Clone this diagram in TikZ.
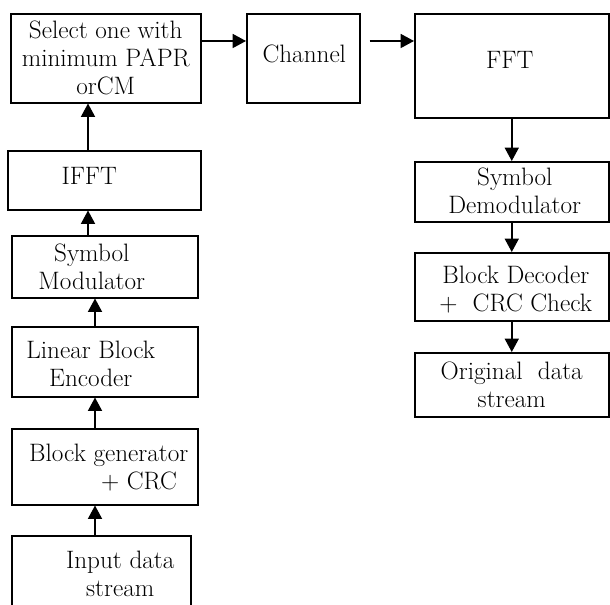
\documentclass[tikz,border=0pt]{standalone}
\usetikzlibrary{arrows.meta}
\tikzset{
    box/.style={draw, line width=1.3pt, inner sep=0pt},
    lbl/.style={align=center, inner sep=0pt, font=\fontsize{21.5}{24}\selectfont},
    arr/.style={line width=1.3pt, -{Triangle[length=4mm,width=4.2mm]}}
}
\newcommand{\Block}[7]{% name,x,y,w,h,text shift,text (x,y = top left corner, in px)
    \node[box, anchor=north west, minimum width=#4*0.3mm, minimum height=#5*0.3mm] (#1) at (#2,#3) {};
    \node[lbl] (#1-t) at ([shift={(#6)}]#1.center) {#7};
}

\begin{document}
\begin{tikzpicture}[x=0.3mm,y=-0.3mm]
        \useasboundingbox (0,0) rectangle (610,605);
        \clip (0,0) rectangle (610,605);

        % transmitter
        \Block{sel}{10}{13}{190}{89}{0,0}{Select one with\\minimum PAPR\\orCM}
        \Block{ifft}{7}{150}{193}{59}{-15,-4}{IFFT}
        \Block{mod}{11}{235}{186}{62}{-13,0}{Symbol\\Modulator}
        \Block{enc}{11}{326}{186}{70}{-14,2}{Linear Block\\Encoder}
        \Block{gen}{11}{428}{186}{76}{4,1}{Block generator\\\hspace*{2.4em}+ CRC}
        \Block{in}{11}{535}{179}{90}{19,-7}{Input data\\stream}

        % channel
        \Block{chan}{246}{13}{113}{89}{1,-4}{Channel}

        % receiver
        \Block{fft}{414}{13}{194}{104}{-2,-6}{FFT}
        \Block{demod}{414}{161}{194}{60}{3,-1}{Symbol\\Demodulator}
        \Block{dec}{414}{252}{194}{68}{4,3}{Block Decoder\\+\ \ CRC Check}
        \Block{out}{414}{352}{194}{64}{0,0}{Original\ \ data\\stream}

        \coordinate (lcola) at (88,0);
        \coordinate (lcolb) at (95,0);
        \coordinate (hrow) at (0,41);

        \draw[arr] (in.north -| lcolb) -- (gen.south -| lcolb);
        \draw[arr] (gen.north -| lcolb) -- (enc.south -| lcolb);
        \draw[arr] (enc.north -| lcolb) -- (mod.south -| lcolb);
        \draw[arr] (mod.north -| lcola) -- (ifft.south -| lcola);
        \draw[arr] (ifft.north -| lcola) -- (sel.south -| lcola);
        \draw[arr] (sel.east |- hrow) -- (chan.west |- hrow);
        \draw[arr, shorten <=2.7mm] (chan.east |- hrow) -- (fft.west |- hrow);
        \draw[arr] (fft) -- (demod);
        \draw[arr] (demod) -- (dec);
        \draw[arr] (dec) -- (out);
\end{tikzpicture}
\end{document}
